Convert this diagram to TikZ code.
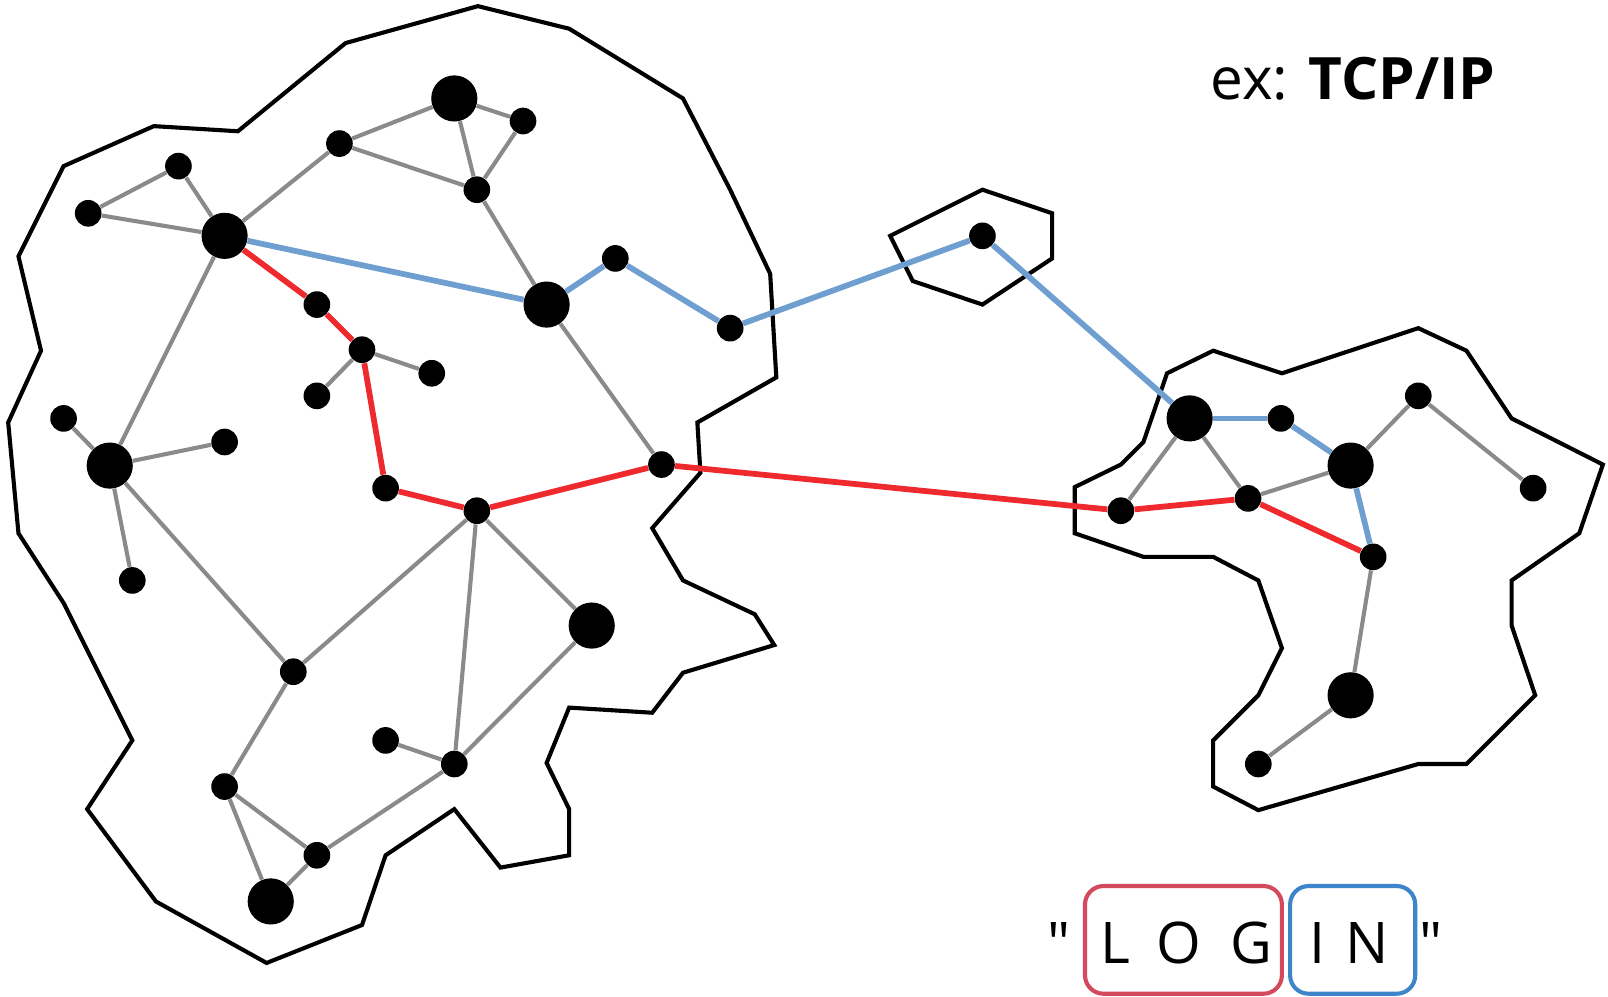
\documentclass[tikz,border=0pt]{standalone}
\usepackage{fontspec}
\setmainfont{Open Sans}[Ligatures=TeXOff]
\usepackage{tikz}

\definecolor{linkgray}{HTML}{8A8A88}
\definecolor{pathred}{HTML}{EE2A2E}
\definecolor{pathblue}{HTML}{6F9FD0}
\definecolor{boxred}{HTML}{D24A5C}
\definecolor{boxblue}{HTML}{3D85C8}

\tikzset{
  dot/.style={circle, fill=black, inner sep=0pt, minimum size=13pt},
  hub/.style={circle, fill=black, inner sep=0pt, minimum size=22.5pt},
  link/.style={draw=linkgray, line width=2pt},
  redlink/.style={draw=pathred, line width=2.8pt},
  bluelink/.style={draw=pathblue, line width=2.8pt},
  region/.style={draw=black, line width=2pt, line join=miter},
  letter/.style={anchor=base, inner sep=0pt, font=\fontsize{28}{30}\selectfont}
}

\begin{document}
\begin{tikzpicture}[x=0.5pt, y=-0.5pt]
\useasboundingbox (0,0) rectangle (1568,972);

% regions
\draw[region] (466,6) -- (555,28) -- (666,96) -- (712,185) -- (751,267) -- (757,368) -- (680,412) -- (683,461) -- (636,515) -- (666,566) -- (736,599) -- (755,629) -- (666,656) -- (636,695) -- (555,690) -- (533,744) -- (555,789) -- (555,834) -- (488,846) -- (443,789) -- (376,834) -- (353,902) -- (260,939) -- (152,879) -- (85,789) -- (129,722) -- (62,588) -- (18,520) -- (8,412) -- (40,342) -- (18,250) -- (62,162) -- (150,123) -- (232,128) -- (337,42) -- cycle;
\draw[region] (868,230) -- (958,185) -- (1026,208) -- (1026,252) -- (958,297) -- (890,274) -- cycle;
\draw[region] (1138,364) -- (1183,342) -- (1250,364) -- (1383,320) -- (1430,342) -- (1474,408) -- (1563,453) -- (1540,520) -- (1474,566) -- (1474,610) -- (1497,678) -- (1430,745) -- (1383,745) -- (1227,790) -- (1183,767) -- (1183,722) -- (1227,678) -- (1250,632) -- (1227,566) -- (1183,543) -- (1115,543) -- (1048,520) -- (1048,475) -- (1093,453) -- (1115,431) -- cycle;

% hosts, left network
\node[hub] (a1) at (443,96) {};
\node[dot] (a2) at (510,118) {};
\node[dot] (a3) at (331,140) {};
\node[dot] (a4) at (465,185) {};
\node[dot] (a5) at (174,162) {};
\node[dot] (a6) at (86,208) {};
\node[hub] (a7) at (219,230) {};
\node[hub] (a8) at (533,297) {};
\node[dot] (a9) at (600,252) {};
\node[dot] (a10) at (712,320) {};
\node[dot] (a11) at (309,297) {};
\node[dot] (a12) at (353,341) {};
\node[dot] (a13) at (421,364) {};
\node[dot] (a14) at (309,386) {};
\node[dot] (a15) at (62,408) {};
\node[hub] (a16) at (107,454) {};
\node[dot] (a17) at (219,431) {};
\node[dot] (a18) at (376,476) {};
\node[dot] (a19) at (465,498) {};
\node[dot] (a20) at (645,453) {};
\node[dot] (a21) at (129,566) {};
\node[hub] (a22) at (577,610) {};
\node[dot] (a23) at (286,655) {};
\node[dot] (a24) at (376,722) {};
\node[dot] (a25) at (443,745) {};
\node[dot] (a26) at (219,767) {};
\node[dot] (a27) at (309,834) {};
\node[hub] (a28) at (264,879) {};

% relay
\node[dot] (h1) at (958,230) {};

% hosts, right network
\node[hub] (b1) at (1160,408) {};
\node[dot] (b2) at (1249,408) {};
\node[dot] (b3) at (1383,386) {};
\node[hub] (b4) at (1317,454) {};
\node[dot] (b5) at (1495,476) {};
\node[dot] (b6) at (1093,498) {};
\node[dot] (b7) at (1217,486) {};
\node[dot] (b8) at (1339,543) {};
\node[hub] (b9) at (1317,678) {};
\node[dot] (b10) at (1227,745) {};

% plain links
\path[link] (a1) edge (a2) (a1) edge (a3) (a1) edge (a4) (a2) edge (a4) (a3) edge (a4);
\path[link] (a3) edge (a7) (a5) edge (a7) (a5) edge (a6) (a6) edge (a7) (a4) edge (a8);
\path[link] (a7) edge (a16) (a8) edge (a20) (a12) edge (a13) (a12) edge (a14);
\path[link] (a15) edge (a16) (a16) edge (a17) (a16) edge (a21) (a16) edge (a23);
\path[link] (a19) edge (a23) (a19) edge (a25) (a19) edge (a22) (a22) edge (a25);
\path[link] (a24) edge (a25) (a25) edge (a27) (a23) edge (a26) (a26) edge (a27);
\path[link] (a26) edge (a28) (a27) edge (a28);
\path[link] (b1) edge (b6) (b1) edge (b7) (b7) edge (b4) (b4) edge (b3);
\path[link] (b3) edge (b5) (b8) edge (b9) (b9) edge (b10);

% route one
\path[redlink] (a7) edge (a11) (a11) edge (a12) (a12) edge (a18) (a18) edge (a19);
\path[redlink] (a19) edge (a20) (a20) edge (b6) (b6) edge (b7) (b7) edge (b8);

% route two
\path[bluelink] (a7) edge (a8) (a8) edge (a9) (a9) edge (a10) (a10) edge (h1);
\path[bluelink] (h1) edge (b1) (b1) edge (b2) (b2) edge (b4) (b4) edge (b8);

% labels
\node[anchor=base west, inner sep=0pt, font=\fontsize{28.5}{30}\selectfont] (ex) at (1180,97) {ex: \textbf{TCP/IP}};

\node[letter] (q1) at (1033,940) {"};
\node[letter] (l1) at (1088,940) {L};
\node[letter] (l2) at (1150,940) {O};
\node[letter] (l3) at (1220,940) {G};
\node[letter] (l4) at (1285,940) {I};
\node[letter] (l5) at (1333,940) {N};
\node[letter] (q2) at (1395,940) {"};
\draw[boxred, line width=2pt, rounded corners=9pt] (1058,864) rectangle (1250,969);
\draw[boxblue, line width=2pt, rounded corners=9pt] (1258,864) rectangle (1380,969);
\end{tikzpicture}
\end{document}
